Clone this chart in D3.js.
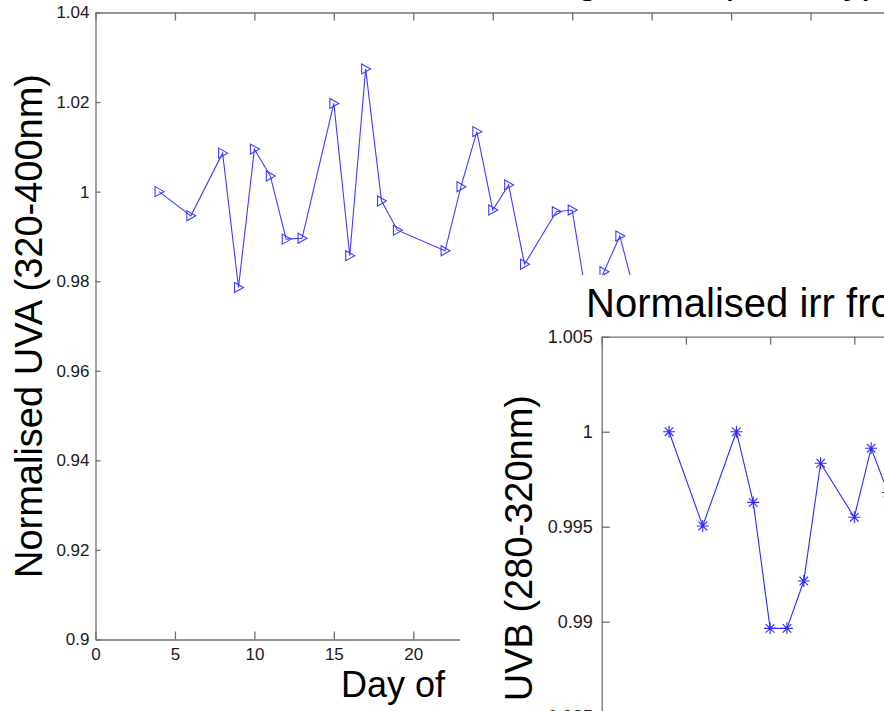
<!DOCTYPE html>
<html>
<head>
<meta charset="utf-8">
<script src="https://cdn.jsdelivr.net/npm/d3@7"></script>
<style>
  body { margin: 0; background: #fff; }
  svg { display: block; font-family: Arial, "Liberation Sans", sans-serif; }
  .axis path, .axis line { stroke: #707070; stroke-width: 1.3; }
  .axis text { fill: #1a1a1a; }
</style>
</head>
<body>
<div id="chart"></div>
<script>
// main figure: normalised UVA per day
var uvaDays = [4, 6, 8, 9, 10, 11, 12, 13, 15, 16, 17, 18, 19, 22, 23, 24, 25, 26, 27, 29, 30, 31, 32, 33, 34]
var uvaValues = [1.000, 0.9946, 1.0086, 0.9786, 1.0095, 1.0035, 0.9894, 0.9896, 1.0197, 0.9857, 1.0274, 0.9979,
                 0.9914, 0.9868, 1.0011, 1.0134, 0.9959, 1.0015, 0.9838, 0.9955, 0.9959, 0.974, 0.9821, 0.9901, 0.9764]
var xTicks = [0, 5, 10, 15, 20, 25, 30, 35, 40, 45, 50]
var yTicks = [0.9, 0.92, 0.94, 0.96, 0.98, 1, 1.02, 1.04]
var yTickLabels = ["0.9", "0.92", "0.94", "0.96", "0.98", "1", "1.02", "1.04"]

// inset figure: normalised UVB per day
var uvbDays = [4, 6, 8, 9, 10, 11, 12, 13, 15, 16, 17]
var uvbValues = [1.000, 0.99504, 1.000, 0.99628, 0.98965, 0.98965, 0.99214, 0.99834, 0.9955, 0.99913, 0.9968]
var insetXTicks = [0, 5, 10, 15, 20, 25, 30, 35]
var insetYTicks = [0.97, 0.975, 0.98, 0.985, 0.99, 0.995, 1, 1.005]
var insetYTickLabels = ["0.97", "0.975", "0.98", "0.985", "0.99", "0.995", "1", "1.005"]

var W = 884, H = 711
var blue = "#3d3dff"

var svg = d3.select("#chart").append("svg")
    .attr("width", W)
    .attr("height", H)

svg.append("rect").attr("width", W).attr("height", H).attr("fill", "#fff")

var x = d3.scaleLinear().domain([0, 50]).range([95.5, 890])
var y = d3.scaleLinear().domain([0.9, 1.04]).range([639.5, 12.5])

// main title, mostly above the picture
svg.append("text")
    .attr("x", 212)
    .attr("y", -7.5)
    .attr("font-size", 40)
    .text("Normalised irr for August 09 (UV day)")

// axes box with inward ticks
svg.append("g")
    .attr("class", "axis")
    .attr("transform", "translate(0," + y(0.9) + ")")
    .call(d3.axisBottom(x).tickValues(xTicks).tickSizeInner(-8).tickSizeOuter(0).tickPadding(8))
    .attr("font-size", 17)

svg.append("g")
    .attr("class", "axis")
    .attr("transform", "translate(0," + y(1.04) + ")")
    .call(d3.axisTop(x).tickValues(xTicks).tickSizeInner(-8).tickSizeOuter(0).tickFormat(""))

svg.append("g")
    .attr("class", "axis")
    .attr("transform", "translate(" + x(0) + ",0)")
    .call(d3.axisLeft(y).tickValues(yTicks).tickSizeInner(-5).tickSizeOuter(0).tickPadding(6)
        .tickFormat(function(d, i) { return yTickLabels[i] }))
    .attr("font-size", 17)

svg.append("g")
    .attr("class", "axis")
    .attr("transform", "translate(" + x(50) + ",0)")
    .call(d3.axisRight(y).tickValues(yTicks).tickSizeInner(-6).tickSizeOuter(0).tickFormat(""))

svg.selectAll(".axis .domain").attr("fill", "none")

svg.append("text")
    .attr("transform", "translate(41.7," + (y(0.9) + y(1.04)) / 2 + ") rotate(-90)")
    .attr("text-anchor", "middle")
    .attr("font-size", 38)
    .text("Normalised UVA (320-400nm)")

// x label: the end of it sits under the inset
var xLabel = svg.append("text")
    .attr("x", 341)
    .attr("y", 697)
    .attr("font-size", 36)
    .text("Day of")
xLabel.append("tspan")
    .attr("dx", 16)
    .text("month")

var uva = uvaDays.map(function(d, i) { return {day: d, v: uvaValues[i]} })

svg.append("path")
    .datum(uva)
    .attr("fill", "none")
    .attr("stroke", blue)
    .attr("stroke-width", 1.1)
    .attr("d", d3.line().x(function(d) { return x(d.day) }).y(function(d) { return y(d.v) }))

svg.selectAll(".tri")
    .data(uva)
    .enter().append("path")
    .attr("class", "tri")
    .attr("transform", function(d) { return "translate(" + x(d.day) + "," + y(d.v) + ")" })
    .attr("d", "M-4,-5L-4,5L5,0Z")
    .attr("fill", "none")
    .attr("stroke", blue)
    .attr("stroke-width", 1.1)

// inset figure on its own white panel
var inset = svg.append("g")

inset.append("rect")
    .attr("x", 460).attr("y", 275)
    .attr("width", 500).attr("height", 500)
    .attr("fill", "#fff")

var ix = d3.scaleLinear().domain([0, 35]).range([601.7, 601.7 + 35 * 16.84])
var iy = d3.scaleLinear().domain([0.97, 1.005]).range([336.7 + 0.035 * 19000, 336.7])

inset.append("text")
    .attr("x", 586)
    .attr("y", 316.7)
    .attr("font-size", 40)
    .text("Normalised irr from UVB for August")

inset.append("g")
    .attr("class", "axis")
    .attr("transform", "translate(0," + iy(1.005) + ")")
    .call(d3.axisTop(ix).tickValues(insetXTicks).tickSizeInner(-8).tickSizeOuter(0).tickFormat(""))

inset.append("g")
    .attr("class", "axis")
    .attr("transform", "translate(" + ix(0) + ",0)")
    .call(d3.axisLeft(iy).tickValues(insetYTicks).tickSizeInner(-8).tickSizeOuter(0).tickPadding(9)
        .tickFormat(function(d, i) { return insetYTickLabels[i] }))
    .attr("font-size", 18)

inset.selectAll(".axis .domain").attr("fill", "none")

inset.append("text")
    .attr("transform", "translate(532,395) rotate(-90)")
    .attr("text-anchor", "end")
    .attr("font-size", 38)
    .text("Normalised UVB (280-320nm)")

var uvb = uvbDays.map(function(d, i) { return {day: d, v: uvbValues[i]} })

inset.append("path")
    .datum(uvb)
    .attr("fill", "none")
    .attr("stroke", "#2b2bff")
    .attr("stroke-width", 1.1)
    .attr("d", d3.line().x(function(d) { return ix(d.day) }).y(function(d) { return iy(d.v) }))

inset.selectAll(".star")
    .data(uvb)
    .enter().append("path")
    .attr("class", "star")
    .attr("transform", function(d) { return "translate(" + ix(d.day) + "," + iy(d.v) + ")" })
    .attr("d", "M-6,0H6M0,-6V6M-4.3,-4.3L4.3,4.3M-4.3,4.3L4.3,-4.3")
    .attr("stroke", "#2b2bff")
    .attr("stroke-width", 1.1)
</script>
</body>
</html>
